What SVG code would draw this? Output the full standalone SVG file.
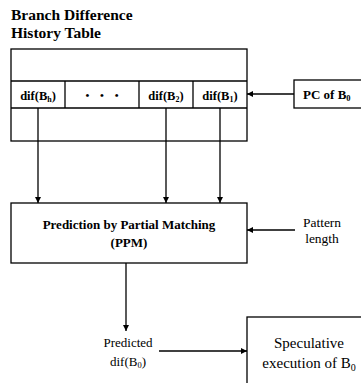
<svg xmlns="http://www.w3.org/2000/svg" width="361" height="383" viewBox="0 0 361 383">
<style>
.box{fill:#fff;stroke:#000;stroke-width:1.3}
.ln{fill:none;stroke:#000;stroke-width:1.3}
.b{font-family:"Liberation Serif","Times New Roman",serif;font-weight:bold;fill:#000}
.r{font-family:"Liberation Serif","Times New Roman",serif;fill:#000}
</style>
<defs>
<marker id="ah" viewBox="0 0 10 10" refX="10" refY="5" markerWidth="6" markerHeight="6" markerUnits="userSpaceOnUse" orient="auto">
<path d="M0,0 L10,5 L0,10 z" fill="#000"/>
</marker>
</defs>
<g id="title">
<text class="b" x="11" y="20" font-size="15.5">Branch Difference</text>
<text class="b" x="11" y="37.5" font-size="15.5">History Table</text>
</g>
<g id="table">
<rect class="box" x="11" y="49" width="236" height="92"/>
<line class="ln" x1="11" y1="81" x2="247" y2="81"/>
<line class="ln" x1="11" y1="108" x2="247" y2="108"/>
<line class="ln" x1="65" y1="81" x2="65" y2="108"/>
<line class="ln" x1="139" y1="81" x2="139" y2="108"/>
<line class="ln" x1="193" y1="81" x2="193" y2="108"/>
<text class="b" x="38" y="100" font-size="12.5" text-anchor="middle">dif(B<tspan font-size="8" dy="2">h</tspan><tspan dy="-2">)</tspan></text>
<text class="b" x="104" y="99" font-size="11" text-anchor="middle" letter-spacing="4">• • •</text>
<text class="b" x="166" y="100" font-size="12.5" text-anchor="middle">dif(B<tspan font-size="8" dy="2">2</tspan><tspan dy="-2">)</tspan></text>
<text class="b" x="220" y="100" font-size="12.5" text-anchor="middle">dif(B<tspan font-size="8" dy="2">1</tspan><tspan dy="-2">)</tspan></text>
</g>
<g id="pc">
<rect class="box" x="294" y="80" width="80" height="28"/>
<text class="b" x="303" y="99" font-size="13">PC of  B<tspan font-size="8.5" dy="2">0</tspan></text>
</g>
<g id="ppm">
<rect class="box" x="11" y="203" width="236" height="60"/>
<text class="b" x="129" y="229" font-size="13" text-anchor="middle">Prediction by Partial Matching</text>
<text class="b" x="129" y="247" font-size="13" text-anchor="middle">(PPM)</text>
</g>
<g id="pattern">
<text class="r" x="322" y="227" font-size="13.5" text-anchor="middle">Pattern</text>
<text class="r" x="322" y="243" font-size="13.5" text-anchor="middle">length</text>
</g>
<g id="predicted">
<text class="r" x="128" y="347" font-size="13" text-anchor="middle">Predicted</text>
<text class="r" x="128" y="366" font-size="13" text-anchor="middle">dif(B<tspan font-size="8.5" dy="2">0</tspan><tspan dy="-2">)</tspan></text>
</g>
<g id="speculative">
<rect class="box" x="247" y="317" width="130" height="80"/>
<text class="r" x="309" y="348" font-size="15" text-anchor="middle">Speculative</text>
<text class="r" x="309" y="368" font-size="15" text-anchor="middle">execution of B<tspan font-size="10" dy="2.5">0</tspan></text>
</g>
<g id="connectors">
<line class="ln" x1="294" y1="94" x2="247" y2="94" marker-end="url(#ah)"/>
<line class="ln" x1="38" y1="108" x2="38" y2="203" marker-end="url(#ah)"/>
<line class="ln" x1="166" y1="108" x2="166" y2="203" marker-end="url(#ah)"/>
<line class="ln" x1="220" y1="108" x2="220" y2="203" marker-end="url(#ah)"/>
<line class="ln" x1="295" y1="230" x2="247" y2="230" marker-end="url(#ah)"/>
<line class="ln" x1="126" y1="263" x2="126" y2="331" marker-end="url(#ah)"/>
<line class="ln" x1="159" y1="351" x2="247" y2="351" marker-end="url(#ah)"/>
</g>
</svg>
